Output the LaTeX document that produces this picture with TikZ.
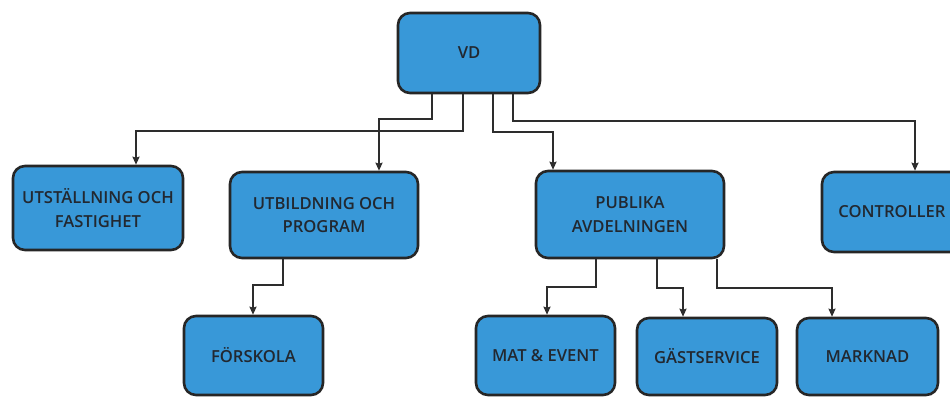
\documentclass[tikz,border=0pt]{standalone}
\usepackage{fontspec}
\setmainfont{Open Sans}
\IfFontExistsTF{Open Sans SemiBold}{%
  \newfontfamily\boxfont{Open Sans SemiBold}\def\boxsize{16.6}}{%
  \IfFontExistsTF{Open Sans Semibold}{%
    \newfontfamily\boxfont{Open Sans Semibold}\def\boxsize{16.6}}{%
    \newfontfamily\boxfont{Open Sans}[UprightFont=*Bold]\def\boxsize{15.8}}}
\usetikzlibrary{arrows.meta}
\definecolor{boxblue}{RGB}{56,152,216}
\definecolor{boxline}{RGB}{38,38,38}
\definecolor{txt}{RGB}{34,40,48}
\definecolor{conn}{RGB}{45,45,45}
\tikzset{
  orgbox/.style={draw=boxline, fill=boxblue, line width=2.6pt, rounded corners=12pt,
    inner sep=0pt, align=center, text=txt,
    font=\boxfont\fontsize{\boxsize}{23.5}\selectfont},
  link/.style={draw=conn, line width=2.2pt,
    -{Stealth[length=8pt,width=7pt,inset=1pt]}}
}
\begin{document}
\begin{tikzpicture}[x=1pt,y=-1pt]
\fill[white] (0,0) rectangle (950,397);
\useasboundingbox (0,0) rectangle (950,397);
\clip (0,0) rectangle (950,397);
% nodes
\node[orgbox, minimum width=142pt, minimum height=80pt] (vd) at (469,53) {VD};
\node[orgbox, minimum width=170pt, minimum height=84pt] (uts) at (98,208) {UTSTÄLLNING OCH\\FASTIGHET};
\node[orgbox, minimum width=188pt, minimum height=86pt] (utb) at (324,215) {UTBILDNING OCH\\PROGRAM};
\node[orgbox, minimum width=188pt, minimum height=87pt] (pub) at (630,214.5) {PUBLIKA\\AVDELNINGEN};
\node[orgbox, minimum width=140pt, minimum height=80pt] (con) at (892,212) {CONTROLLER};
\node[orgbox, minimum width=139pt, minimum height=79pt] (for) at (253.5,355.5) {FÖRSKOLA};
\node[orgbox, minimum width=139pt, minimum height=79pt] (mat) at (545.5,355.5) {MAT \& EVENT};
\node[orgbox, minimum width=140pt, minimum height=77pt] (gas) at (707,356.5) {GÄSTSERVICE};
\node[orgbox, minimum width=141pt, minimum height=77pt] (mar) at (867.5,356.5) {MARKNAD};
% connectors from VD
\draw[link] (432,0 |- vd.south) |- (379,119) -- (379,0 |- utb.north);
\draw[link] (463,0 |- vd.south) |- (136,131) -- (136,0 |- uts.north);
\draw[link] (493,0 |- vd.south) |- (553,132) -- (553,0 |- pub.north);
\draw[link] (513,0 |- vd.south) |- (915,121) -- (915,0 |- con.north);
% connectors below
\draw[link] (283,0 |- utb.south) |- (253,285) -- (253,0 |- for.north);
\draw[link] (596,0 |- pub.south) |- (547,287) -- (547,0 |- mat.north);
\draw[link] (657,0 |- pub.south) |- (683,288) -- (683,0 |- gas.north);
\draw[link] (717,0 |- pub.south) |- (832,288) -- (832,0 |- mar.north);
\end{tikzpicture}
\end{document}
